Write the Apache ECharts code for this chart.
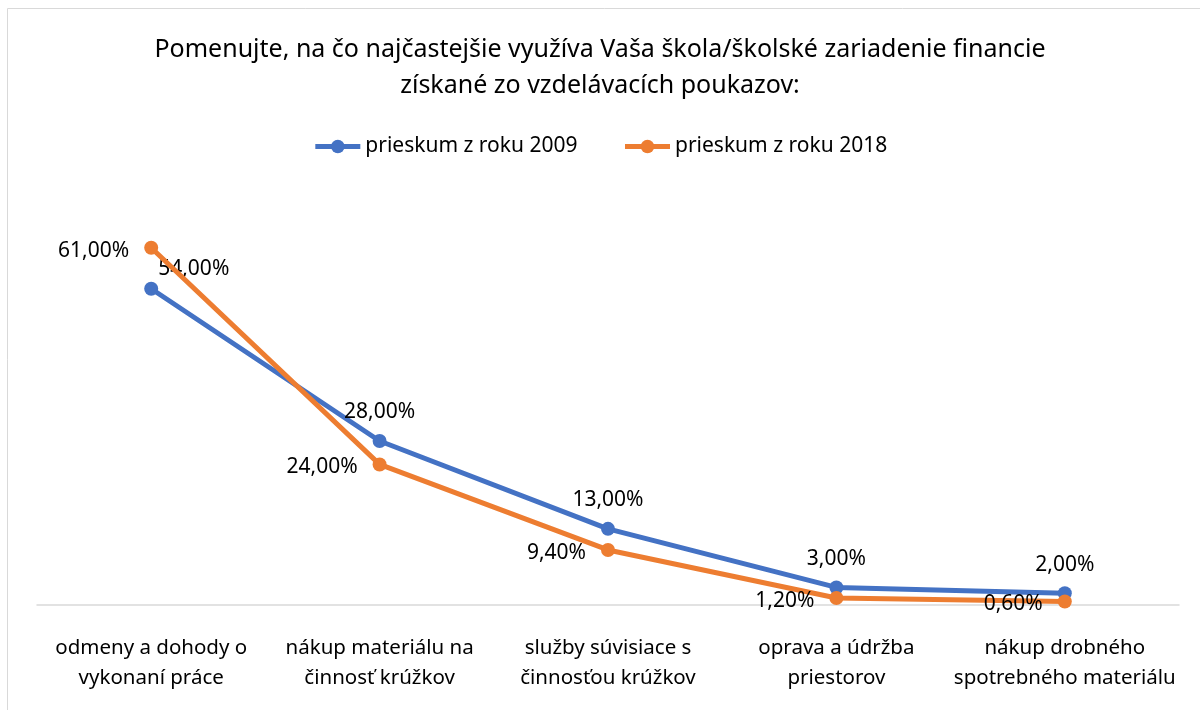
<!DOCTYPE html>
<html>
<head>
<meta charset="utf-8">
<script src="https://cdn.jsdelivr.net/npm/echarts@6/dist/echarts.min.js"></script>
<style>
  html, body { margin: 0; padding: 0; background: #fff; }
  #chart { width: 1200px; height: 710px; }
</style>
</head>
<body>
<div id="chart"></div>
<script>
// data
const categories = [
    'odmeny a dohody o\nvykonaní práce',
    'nákup materiálu na\nčinnosť krúžkov',
    'služby súvisiace s\nčinnosťou krúžkov',
    'oprava a údržba\npriestorov',
    'nákup drobného\nspotrebného materiálu'
]
const seriesNames = ['prieskum z roku 2009', 'prieskum z roku 2018']
const values2009 = [54, 28, 13, 3, 2]
const values2018 = [61, 24, 9.4, 1.2, 0.6]

const font = 'Noto Sans'
const fmt = p => p.value.toFixed(2).replace('.', ',') + '%'

let myChart = echarts.init(document.getElementById('chart'))

let option = {
    animation: false,
    textStyle: { fontFamily: font },
    title: {
        text: 'Pomenujte, na čo najčastejšie využíva Vaša škola/školské zariadenie financie\nzískané zo vzdelávacích poukazov:',
        left: 'center',
        top: 27,
        textStyle: { fontSize: 25, fontWeight: 'normal', color: '#000', lineHeight: 36, fontFamily: font }
    },
    legend: {
        top: 131,
        left: 'center',
        itemWidth: 45,
        itemHeight: 17,
        itemGap: 45,
        lineStyle: { width: 5 },
        textStyle: { fontSize: 21, color: '#000', fontFamily: font },
        data: seriesNames
    },
    graphic: [{
        type: 'rect',
        shape: { x: 7.5, y: 8.5, width: 1200, height: 710 },
        style: { fill: 'none', stroke: '#d9d9d9', lineWidth: 1 },
        silent: true
    }],
    grid: { left: 37, right: 21, top: 195, bottom: 105, containLabel: false },
    xAxis: {
        type: 'category',
        data: categories,
        boundaryGap: true,
        axisLine: { lineStyle: { color: '#d9d9d9', width: 1.5 } },
        axisTick: { show: false },
        axisLabel: { fontSize: 20.5, color: '#000', lineHeight: 30, margin: 28, interval: 0, fontFamily: font }
    },
    yAxis: {
        type: 'value',
        min: 0,
        max: 70,
        show: false,
        splitLine: { show: false }
    },
    series: [
        {
            name: seriesNames[0],
            type: 'line',
            data: values2009.map((v, i) => i === 0
                ? { value: v, label: { position: 'right', distance: 0, offset: [0, -20] } }
                : v),
            color: '#4472C4',
            symbol: 'circle',
            symbolSize: 14,
            lineStyle: { width: 5 },
            label: {
                show: true, position: 'top', distance: 11,
                fontSize: 21, color: '#000', formatter: fmt, fontFamily: font
            },
            z: 3
        },
        {
            name: seriesNames[1],
            type: 'line',
            data: values2018,
            color: '#ED7D31',
            symbol: 'circle',
            symbolSize: 14,
            lineStyle: { width: 5 },
            label: {
                show: true, position: 'left', distance: 15, offset: [0, 3],
                fontSize: 21, color: '#000', formatter: fmt, fontFamily: font
            },
            z: 4
        }
    ]
}

myChart.setOption(option)
</script>
</body>
</html>
